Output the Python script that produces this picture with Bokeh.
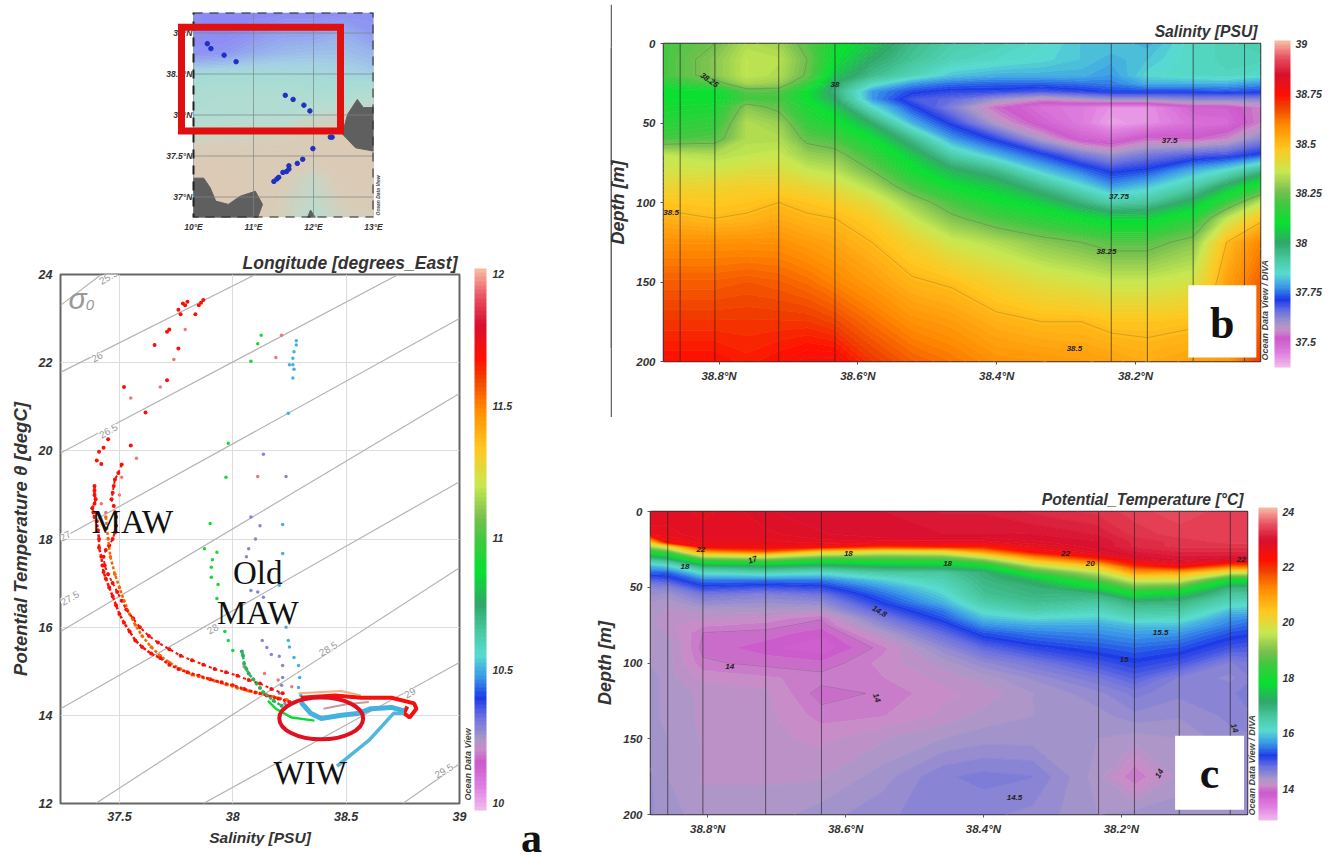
import numpy as np
from bokeh.plotting import figure
from bokeh.layouts import row, column
from bokeh.models import (ColorBar, LinearColorMapper, FixedTicker, Label, BoxAnnotation, Range1d)
from bokeh.embed import file_html
from bokeh.resources import INLINE

# ---------- colour map (fraction, colour), Ocean Data View style
CMAP_STOPS = [(0.0, "#f0b8ec"), (0.04, "#e080e0"), (0.085, "#cc58cc"), (0.11, "#c88cc8"), (0.13, "#a898c8"), (0.17, "#6a70e0"),
              (0.205, "#1c3ce8"), (0.245, "#3a98e8"), (0.285, "#58dcd0"), (0.33, "#48c8a0"), (0.38, "#30a868"),
              (0.44, "#08e030"), (0.50, "#40c840"), (0.54, "#78c050"), (0.60, "#c8e850"), (0.67, "#ffc820"),
              (0.745, "#ff8800"), (0.80, "#f04000"), (0.835, "#ff1000"), (0.90, "#d81030"), (0.95, "#e85060"),
              (1.0, "#f8b8a0")]


def hex2rgb(h):
    return np.array([int(h[i:i + 2], 16) for i in (1, 3, 5)], dtype=float)


def make_palette(n, stops=CMAP_STOPS):
    fr = [s[0] for s in stops]
    rgb = np.array([hex2rgb(s[1]) for s in stops])
    out = []
    for f in np.linspace(0, 1, n):
        c = [np.interp(f, fr, rgb[:, k]) for k in range(3)]
        out.append("#%02x%02x%02x" % tuple(int(round(v)) for v in c))
    return out


PAL = make_palette(128)
PAL_EDGE = make_palette(129)
FONT = "Liberation Sans"
SERIF = "Liberation Serif"
TXT = "#333333"

# ---------- panel b, salinity section
sal_lat = [38.88, 38.806, 38.76, 38.714, 38.673, 38.633, 38.58, 38.522, 38.465, 38.401, 38.335, 38.278, 38.235, 38.183, 38.117, 38.069, 38.02]
sal_depth = [0, 10, 20, 25, 30, 35, 40, 50, 60, 70, 80, 90, 100, 110, 125, 150, 175, 200]
sal_columns = [
    [38.2, 38.2, 38.2, 38.15, 38.1, 38.1, 38.12, 38.15, 38.2, 38.35, 38.38, 38.43, 38.48, 38.52, 38.58, 38.65, 38.7, 38.75],
    [38.25, 38.28, 38.28, 38.22, 38.1, 38.1, 38.13, 38.17, 38.22, 38.33, 38.38, 38.44, 38.47, 38.5, 38.58, 38.65, 38.7, 38.75],
    [38.33, 38.35, 38.35, 38.32, 38.22, 38.2, 38.28, 38.33, 38.33, 38.35, 38.4, 38.45, 38.48, 38.51, 38.58, 38.66, 38.7, 38.73],
    [38.31, 38.34, 38.33, 38.3, 38.22, 38.2, 38.23, 38.3, 38.33, 38.36, 38.4, 38.45, 38.5, 38.53, 38.58, 38.65, 38.7, 38.75],
    [38.22, 38.25, 38.24, 38.18, 38.1, 38.1, 38.13, 38.17, 38.23, 38.3, 38.36, 38.43, 38.48, 38.51, 38.56, 38.63, 38.7, 38.77],
    [38.12, 38.1, 38.05, 38.0, 37.97, 38.0, 38.05, 38.12, 38.2, 38.28, 38.34, 38.4, 38.46, 38.5, 38.54, 38.6, 38.68, 38.77],
    [38.05, 38.0, 37.95, 37.87, 37.78, 37.78, 37.85, 38.0, 38.1, 38.18, 38.25, 38.33, 38.41, 38.46, 38.5, 38.56, 38.63, 38.7],
    [37.95, 37.93, 37.88, 37.78, 37.72, 37.68, 37.72, 37.8, 37.95, 38.05, 38.12, 38.2, 38.3, 38.36, 38.44, 38.51, 38.58, 38.65],
    [37.9, 37.88, 37.82, 37.75, 37.7, 37.66, 37.63, 37.7, 37.78, 37.9, 38.02, 38.1, 38.2, 38.27, 38.37, 38.49, 38.56, 38.62],
    [37.88, 37.86, 37.8, 37.74, 37.7, 37.6, 37.53, 37.58, 37.7, 37.8, 37.95, 38.05, 38.12, 38.2, 38.33, 38.44, 38.52, 38.58],
    [37.85, 37.84, 37.8, 37.74, 37.68, 37.55, 37.47, 37.5, 37.58, 37.72, 37.82, 37.95, 38.06, 38.15, 38.28, 38.4, 38.5, 38.57],
    [37.82, 37.82, 37.8, 37.75, 37.7, 37.58, 37.45, 37.45, 37.5, 37.64, 37.75, 37.85, 37.97, 38.1, 38.25, 38.38, 38.5, 38.56],
    [37.82, 37.8, 37.78, 37.76, 37.72, 37.6, 37.42, 37.4, 37.48, 37.6, 37.7, 37.78, 37.9, 38.07, 38.22, 38.36, 38.48, 38.55],
    [37.8, 37.82, 37.84, 37.8, 37.72, 37.6, 37.42, 37.42, 37.53, 37.64, 37.72, 37.82, 37.92, 38.07, 38.22, 38.36, 38.48, 38.53],
    [37.86, 37.86, 37.86, 37.8, 37.72, 37.62, 37.5, 37.47, 37.52, 37.67, 37.8, 37.9, 38.03, 38.15, 38.28, 38.38, 38.49, 38.55],
    [37.88, 37.88, 37.87, 37.8, 37.73, 37.62, 37.5, 37.48, 37.55, 37.68, 37.85, 38.02, 38.18, 38.35, 38.5, 38.55, 38.55, 38.56],
    [37.9, 37.88, 37.85, 37.78, 37.72, 37.62, 37.55, 37.55, 37.62, 37.72, 37.95, 38.15, 38.35, 38.48, 38.6, 38.65, 38.65, 38.7],
]
sal_stations = [38.856, 38.806, 38.714, 38.633, 38.235, 38.183, 38.117, 38.043]
sal_label_lat = [38.814, 38.633, 38.869, 38.151, 38.224, 38.242, 38.288]
sal_label_depth = [23, 26, 106, 61, 96, 131, 192]
sal_label_text = ["38.25", "38", "38.5", "37.5", "37.75", "38.25", "38.5"]
sal_label_angle = [-35, 0, 0, 0, 0, 0, 0]

# ---------- panel c, potential temperature section
tem_lat = [38.883, 38.858, 38.807, 38.716, 38.635, 38.546, 38.459, 38.4, 38.329, 38.233, 38.181, 38.116, 38.042, 38.017]
tem_depth = [0, 15, 20, 23, 26, 29, 32, 36, 40, 45, 50, 55, 60, 65, 70, 75, 80, 90, 100, 110, 120, 135, 150, 175, 200]
tem_columns = [
    [22.8, 22.7, 20.5, 19.4, 18.4, 17.3, 16.6, 15.8, 15.4, 14.9, 14.55, 14.45, 14.35, 14.35, 14.3, 14.3, 14.3, 14.35, 14.35, 14.4, 14.4, 14.4, 14.4, 14.45, 14.45],
    [22.8, 22.7, 22.5, 20, 18.9, 17.8, 16.8, 16, 15.4, 15, 14.6, 14.4, 14.3, 14.25, 14.2, 14.2, 14.25, 14.3, 14.3, 14.3, 14.3, 14.3, 14.35, 14.35, 14.4],
    [22.7, 22.8, 22.7, 22.6, 21.2, 19.7, 18.5, 17, 16.2, 15.5, 15.1, 14.7, 14.5, 14.3, 14.2, 14.1, 14.0, 13.97, 14.02, 14.15, 14.25, 14.25, 14.25, 14.25, 14.3],
    [22.9, 22.8, 22.7, 22.6, 21.8, 20, 18.8, 17.2, 16.4, 15.5, 15.0, 14.6, 14.45, 14.3, 14.15, 14.05, 13.97, 13.85, 13.97, 14.1, 14.2, 14.2, 14.2, 14.25, 14.3],
    [23, 22.9, 22.8, 22.5, 20.5, 19.3, 18.2, 17, 16.2, 15.5, 15.1, 14.75, 14.5, 14.3, 14.02, 13.95, 13.85, 13.75, 13.93, 14.05, 13.95, 14.05, 14.15, 14.25, 14.4],
    [23, 23, 22.8, 22, 20, 19.1, 18.3, 17.3, 16.6, 16, 15.65, 15.4, 15.2, 14.95, 14.7, 14.5, 14.3, 14.05, 14.12, 14.08, 14.02, 14.08, 14.25, 14.4, 14.5],
    [23.1, 23, 22.8, 22.2, 20.2, 19.2, 18.4, 17.4, 16.6, 16.4, 16.2, 16, 15.8, 15.5, 15.3, 15.05, 14.85, 14.5, 14.3, 14.2, 14.15, 14.2, 14.35, 14.6, 14.6],
    [23.1, 23, 22.8, 22.2, 21.2, 20, 19, 17.8, 17, 16.9, 16.8, 16.7, 16.5, 16.2, 15.9, 15.6, 15.3, 14.85, 14.5, 14.3, 14.2, 14.3, 14.4, 14.65, 14.55],
    [23.2, 23, 22.9, 22.7, 22.5, 21.5, 20.5, 19.4, 18.4, 17.3, 17, 16.9, 16.75, 16.5, 16.1, 15.75, 15.5, 15.1, 14.7, 14.45, 14.35, 14.35, 14.4, 14.62, 14.5],
    [23.3, 23.1, 23, 23, 22.9, 22.7, 21.8, 20.5, 19.6, 18.7, 17.8, 16.9, 16.6, 16.3, 16, 15.75, 15.6, 15.3, 15, 14.7, 14.5, 14.4, 14.35, 14.3, 14.35],
    [23.4, 23.3, 23.2, 23.2, 23.1, 23, 22.8, 22, 21, 19.8, 18.8, 17.8, 16.95, 16.6, 16.3, 15.9, 15.7, 15.4, 15.15, 14.9, 14.65, 14.5, 14.3, 14, 14.4],
    [23.5, 23.4, 23.3, 23.3, 23.2, 23.1, 23, 22.5, 20.9, 19.8, 18.6, 17.5, 16.9, 16.6, 16.25, 15.9, 15.65, 15.3, 15, 14.6, 14.55, 14.45, 14.35, 14.3, 14.4],
    [23.4, 23.4, 23.4, 23.3, 23.2, 23.1, 22.9, 21.5, 19.8, 18, 16.95, 16.6, 16.3, 15.9, 15.65, 15.5, 15.3, 15, 14.6, 14.5, 14.6, 14.55, 14.5, 14.4, 14.4],
    [23.4, 23.4, 23.4, 23.3, 23.2, 23.1, 22.9, 21.5, 19.8, 18, 17, 16.6, 16.2, 15.9, 15.6, 15.4, 15.25, 14.95, 14.7, 14.6, 14.65, 14.6, 14.5, 14.45, 14.45],
]
tem_stations = [38.858, 38.807, 38.716, 38.635, 38.233, 38.181, 38.116, 38.042]
tem_label_lat = [38.81, 38.833, 38.735, 38.596, 38.452, 38.551, 38.768, 38.555, 38.281, 38.245, 38.026, 38.143, 38.196, 38.145, 38.355, 38.036]
tem_label_depth = [25, 36, 32, 28, 34, 66, 102, 123, 28, 34, 32, 80, 98, 173, 189, 143]
tem_label_text = ["22", "18", "17", "18", "18", "14.8", "14", "14", "22", "20", "22", "15.5", "15", "14", "14.5", "14"]
tem_label_angle = [0, 0, 20, 0, 0, -30, 0, -70, 0, 0, 0, 0, 0, 60, 0, -70]

# ---------- panel a, theta-S points
iso_name = ["25.5", "26", "26.5", "27", "27.5", "28", "28.5", "29", "29.5"]
iso_s0 = [37.24, 37.24, 37.24, 37.24, 37.24, 37.24, 37.395, 37.87, 38.75]
iso_t0 = [23.3, 21.78, 19.95, 18.0, 15.9, 14.15, 12.0, 12.0, 12.0]
iso_s1 = [37.42, 38.1, 38.73, 39.0, 39.0, 39.0, 39.0, 39.0, 39.0]
iso_t1 = [24.0, 24.0, 24.0, 23.0, 21.3, 19.3, 17.35, 15.2, 12.9]
iso_label_s = [37.45, 37.4, 37.45, 37.26, 37.28, 37.91, 38.42, 38.78, 38.93]
iso_label_t = [23.95, 22.14, 20.46, 18.08, 16.67, 15.97, 15.52, 14.52, 12.75]

red_top_s = [37.78, 37.79, 37.77, 37.8, 37.76, 37.86, 37.87, 37.85, 37.835, 37.72, 37.71, 37.655, 37.76, 37.71, 37.52, 37.615, 37.45, 37.43, 37.41, 37.55, 37.4, 37.42]
red_top_t = [23.34, 23.3, 23.1, 23.38, 23.2, 23.36, 23.42, 23.3, 23.1, 22.75, 22.7, 22.4, 22.32, 21.6, 21.45, 20.87, 20.26, 20.07, 19.98, 20.12, 19.78, 19.7]
red_a_s = [37.39, 37.39, 37.39, 37.395, 37.39, 37.38, 37.385, 37.39, 37.4, 37.405, 37.41, 37.41, 37.42, 37.425, 37.43, 37.44, 37.455, 37.47, 37.485, 37.5, 37.52, 37.545, 37.57, 37.6, 37.64, 37.68, 37.72, 37.76, 37.8, 37.85, 37.9, 37.95, 38.0, 38.05, 38.1, 38.15, 38.2, 38.25]
red_a_t = [19.2, 19.1, 19.0, 18.9, 18.8, 18.7, 18.6, 18.5, 18.4, 18.2, 18.0, 17.8, 17.6, 17.4, 17.25, 17.1, 16.9, 16.7, 16.5, 16.3, 16.1, 15.9, 15.7, 15.55, 15.4, 15.3, 15.15, 15.05, 14.98, 14.9, 14.82, 14.75, 14.68, 14.6, 14.52, 14.45, 14.38, 14.3]
red_b_s = [37.51, 37.495, 37.48, 37.475, 37.47, 37.465, 37.475, 37.485, 37.485, 37.48, 37.47, 37.455, 37.44, 37.43, 37.435, 37.45, 37.47, 37.49, 37.51, 37.53, 37.56, 37.59, 37.63, 37.67, 37.72, 37.77, 37.82, 37.87, 37.92, 37.97, 38.02, 38.07, 38.12, 38.17, 38.22]
red_b_t = [19.69, 19.5, 19.35, 19.2, 19.05, 18.9, 18.75, 18.5, 18.3, 18.15, 18.0, 17.85, 17.75, 17.6, 17.4, 17.2, 17.0, 16.8, 16.6, 16.4, 16.2, 16.0, 15.8, 15.65, 15.5, 15.35, 15.25, 15.15, 15.05, 14.98, 14.9, 14.8, 14.72, 14.6, 14.5]
orange_s = [37.44, 37.45, 37.46, 37.48, 37.5, 37.52, 37.545, 37.57, 37.6, 37.64, 37.68, 37.72, 37.77, 37.82, 37.87, 37.92, 37.97, 38.02, 38.07, 38.12, 38.18, 38.24]
orange_t = [18.5, 18.0, 17.6, 17.2, 16.9, 16.6, 16.3, 16.05, 15.8, 15.55, 15.35, 15.2, 15.05, 14.92, 14.85, 14.78, 14.7, 14.62, 14.55, 14.5, 14.42, 14.35]
pale_s = [37.79, 37.74, 37.68, 37.55, 37.575, 37.51, 37.5, 37.44, 37.42, 38.19, 38.215, 38.11, 38.05, 38.14, 38.2, 38.26]
pale_t = [22.75, 22.07, 21.45, 21.2, 19.83, 19.4, 19.0, 18.6, 18.8, 22.12, 22.62, 19.42, 15.1, 14.95, 14.8, 14.65]
green_s = [38.125, 38.11, 38.08, 37.98, 37.97, 37.9, 37.875, 37.93, 37.91, 37.905, 37.905, 37.935, 37.93, 37.965, 37.98, 38.0]
green_t = [22.62, 22.43, 22.03, 20.17, 19.4, 18.35, 17.78, 17.7, 17.53, 17.36, 17.13, 16.97, 16.65, 15.9, 15.7, 15.47]
green_tail_s = [38.155, 38.19, 38.26, 38.36]
green_tail_t = [14.33, 14.15, 13.95, 13.88]
sage_s = [38.04, 38.045, 38.05, 38.06, 38.07, 38.09, 38.105, 38.12, 38.135, 38.18, 38.215]
sage_t = [15.45, 15.36, 15.17, 15.05, 14.95, 14.82, 14.72, 14.62, 14.52, 14.33, 14.22]
purple_s = [38.135, 38.08, 38.12, 38.07, 38.1, 38.06, 38.08, 38.11, 38.135, 38.13, 38.15, 38.17, 38.205, 38.22, 38.22, 38.215, 38.205, 38.23, 38.235]
purple_t = [19.92, 18.5, 18.3, 17.78, 18.0, 17.6, 16.83, 16.8, 16.68, 15.7, 15.54, 15.38, 15.34, 15.13, 14.86, 14.68, 14.5, 14.27, 19.42]
sky_s = [38.245, 38.25, 38.265, 38.28, 38.28, 38.27, 38.265, 38.265, 38.27, 38.22, 38.205, 38.235, 38.245, 38.25, 38.27, 38.29, 38.295, 38.29, 38.3, 38.22]
sky_t = [20.85, 21.95, 21.65, 22.5, 22.4, 22.25, 22.1, 21.95, 21.85, 17.67, 16.95, 16.0, 15.7, 15.55, 15.31, 15.13, 14.86, 14.63, 14.45, 18.33]

band_s = [38.3, 38.345, 38.39, 38.48, 38.55, 38.61, 38.7, 38.755]
band_t = [14.3, 14.04, 13.93, 14.0, 14.04, 14.15, 14.18, 14.1]
wiw_s = [38.755, 38.71, 38.6, 38.46]
wiw_t = [14.05, 14.05, 13.43, 12.85]
loop_s = [38.3, 38.45, 38.565, 38.7, 38.8, 38.81, 38.78, 38.755, 38.77]
loop_t = [14.4, 14.45, 14.4, 14.4, 14.27, 14.15, 13.95, 14.05, 14.2]
tan_s = [38.29, 38.48, 38.565]
tan_t = [14.5, 14.55, 14.45]
pink_s = [38.4, 38.5, 38.6]
pink_t = [14.15, 14.25, 14.3]

# ---------- map
map_lon = [10, 10.5, 11, 11.5, 12, 12.5, 13]
map_lat = [36.75, 37, 37.25, 37.5, 37.75, 38, 38.25, 38.5, 38.75, 39, 39.25]
map_depth = [
    [200, 200, 300, 700, 1200, 700, 600],
    [200, 150, 200, 600, 1000, 500, 300],
    [250, 200, 300, 500, 900, 300, 200],
    [300, 200, 300, 300, 250, 200, 250],
    [900, 800, 800, 700, 400, 300, 300],
    [1500, 1400, 1300, 1400, 1000, 800, 700],
    [1600, 1500, 1500, 1500, 1600, 1600, 1300],
    [2000, 1900, 1900, 1900, 2000, 2100, 2300],
    [3300, 3200, 2800, 2600, 2500, 2500, 2700],
    [3400, 3500, 3300, 3000, 3000, 2800, 3200],
    [3400, 3500, 3500, 3500, 3500, 3400, 3300],
]
land_lon = [[12.48, 12.57, 12.73, 12.83, 13.0, 13.0, 12.7],
            [10.0, 10.17, 10.28, 10.37, 10.58, 10.78, 11.03, 11.15, 11.07, 10.0],
            [11.9, 11.95, 12.03]]
land_lat = [[37.77, 38.01, 38.19, 38.09, 38.09, 37.56, 37.6],
            [37.23, 37.23, 37.11, 36.95, 36.91, 37.01, 37.07, 36.91, 36.75, 36.75],
            [36.75, 36.84, 36.75]]
stn_lon = [10.23, 10.29, 10.51, 10.71, 11.53, 11.66, 11.84, 11.94, 12.31, 12.28, 11.99, 11.82, 11.73, 11.59, 11.59, 11.55, 11.49, 11.42, 11.39, 11.34]
stn_lat = [38.87, 38.81, 38.73, 38.65, 38.24, 38.19, 38.12, 38.05, 37.73, 37.73, 37.59, 37.46, 37.41, 37.38, 37.34, 37.31, 37.30, 37.24, 37.22, 37.19]
lon_ticks = [10, 11, 12, 13]
lat_ticks = [37, 37.5, 38, 38.5, 39]
lat_tick_labels = ["37°N", "37.5°N", "38°N", "38.5°N", "39°N"]
MAP_STOPS = [(0.0, "#dccab4"), (0.12, "#d8ccb8"), (0.3, "#b8dcd0"), (0.5, "#a6dcd4"), (0.62, "#a4d0e4"), (0.8, "#94a8ee"), (1.0, "#8a84f4")]


def style_axis(ax, size="12px", label_size="13px"):
    ax.major_label_text_font = FONT
    ax.major_label_text_font_style = "bold italic"
    ax.major_label_text_font_size = size
    ax.major_label_text_color = TXT
    ax.axis_label_text_font = FONT
    ax.axis_label_text_font_style = "bold italic"
    ax.axis_label_text_font_size = label_size
    ax.axis_label_text_color = TXT
    ax.axis_line_color = None
    ax.major_tick_line_color = "#555555"
    ax.major_tick_out = 3
    ax.major_tick_in = 0
    ax.minor_tick_line_color = None


def add_title(p, text, size, standoff, offset):
    p.title.text = text
    p.title.align = "right"
    p.title.text_font = FONT
    p.title.text_font_style = "bold italic"
    p.title.text_font_size = size
    p.title.text_color = TXT
    p.title.standoff = standoff
    p.title.offset = offset


def add_bar(p, low, high, ticks, width, height, loc, size="10.5px", standoff=6):
    mapper = LinearColorMapper(palette=PAL, low=low, high=high)
    cb = ColorBar(color_mapper=mapper, ticker=FixedTicker(ticks=ticks), width=width, height=height, location=loc,
                  padding=0, margin=0, major_tick_line_color=None, bar_line_color=None, label_standoff=standoff,
                  major_label_text_font=FONT, major_label_text_font_style="bold italic",
                  major_label_text_font_size=size, major_label_text_color=TXT, background_fill_color=None, border_line_color=None)
    p.add_layout(cb, "right")
    return cb


def section(lat, depth, columns, stations, levels_low, levels_high, iso, frame_w, frame_h, left, right, top, bottom, xr, title, tsize, standoff, offset, margin):
    p = figure(width=left + frame_w + right, height=top + frame_h + bottom, frame_width=frame_w, frame_height=frame_h,
               min_border_left=left, min_border_right=right, min_border_top=top, min_border_bottom=bottom, margin=margin,
               x_range=Range1d(*xr), y_range=Range1d(200, 0), output_backend="svg", toolbar_location=None, y_axis_label="Depth [m]")
    z = np.array(columns).T
    x = np.array(lat)[::-1]
    y = np.array(depth, dtype=float)
    zz = z[:, ::-1]
    lev = np.linspace(levels_low, levels_high, len(PAL) + 1)
    p.contour(x, y, zz, lev, fill_color=PAL, line_color=PAL_EDGE, line_width=1)
    p.contour(x, y, zz, iso, line_color="#333333", line_alpha=0.3, line_width=0.7)
    p.segment(stations, [0] * len(stations), stations, [200] * len(stations), line_color="#222222", line_alpha=0.65, line_width=1)
    p.grid.visible = False
    p.outline_line_color = "#333333"
    p.outline_line_width = 1.5
    ticks = [38.8, 38.6, 38.4, 38.2]
    p.xaxis.ticker = FixedTicker(ticks=ticks)
    p.xaxis.major_label_overrides = {t: f"{t}°N" for t in ticks}
    p.yaxis.ticker = FixedTicker(ticks=[0, 50, 100, 150, 200])
    for ax in (p.xaxis[0], p.yaxis[0]):
        style_axis(ax, "11.5px", "18px")
    add_title(p, title, tsize, standoff, offset)
    return p


def vertical_note(p, x, y, text, size="9px"):
    # kept in the side panel: annotations of the centre are clipped to the frame
    p.add_layout(Label(x=x, y=y, x_units="canvas", y_units="canvas", text=text, angle=90, angle_units="deg", text_font=FONT,
                       text_font_style="bold italic", text_font_size=size, text_color="#444444", text_baseline="middle", text_align="left"), "right")


def big_text(p, x, y, text, size="33px", style="normal", align="left", lift=11):
    p.add_layout(Label(x=x, y=y, y_offset=lift, text=text, text_font=SERIF, text_font_size=size, text_font_style=style,
                       text_color="#111111", text_align=align, text_baseline="alphabetic"))


def small_labels(p, xs, ys, texts, angles):
    for xv, yv, t, a in zip(xs, ys, texts, angles):
        p.add_layout(Label(x=xv, y=yv, text=t, angle=a, angle_units="deg", text_font=FONT, text_font_style="bold italic",
                           text_font_size="8px", text_color="#222222", text_align="center", text_baseline="middle"))


# ---------- map figure
p_map = figure(width=406, height=235, frame_width=213, frame_height=205, min_border_left=60, min_border_right=133,
               min_border_top=12, min_border_bottom=18, margin=(0, 0, 0, 100), x_range=Range1d(9.45, 13), y_range=Range1d(36.75, 39.25),
               output_backend="svg", toolbar_location=None)
map_lev = np.linspace(100, 3600, 41)
p_map.contour(map_lon, map_lat, np.array(map_depth, dtype=float), map_lev, fill_color=make_palette(40, MAP_STOPS),
              line_color=make_palette(41, MAP_STOPS), line_width=1)
p_map.patches(land_lon, land_lat, fill_color="#5f5f5f", line_color="#5f5f5f")
p_map.grid.visible = False
p_map.segment(lon_ticks, [36.75] * 4, lon_ticks, [39.25] * 4, line_color="#778888", line_alpha=0.7)
p_map.segment([10] * 5, lat_ticks, [13] * 5, lat_ticks, line_color="#778888", line_alpha=0.7)
p_map.quad(left=[10], right=[13], top=[39.25], bottom=[36.75], fill_color=None, line_color="#222222", line_width=2, line_dash="9 7")
p_map.scatter(stn_lon, stn_lat, size=4.5, color="#2030c0")
p_map.outline_line_color = None
p_map.xaxis.ticker = FixedTicker(ticks=lon_ticks)
p_map.xaxis.major_label_overrides = {t: f"{t}°E" for t in lon_ticks}
style_axis(p_map.xaxis[0], "8.5px")
p_map.xaxis[0].major_tick_line_color = None
p_map.xaxis[0].major_label_standoff = 1
p_map.yaxis.visible = False
p_map.text([9.98] * 5, lat_ticks, text=lat_tick_labels, text_align="right", text_baseline="middle", text_font_size="8.5px",
           text_font_style="bold italic", text_color=TXT)
p_map.quad(left=[9.8], right=[12.45], top=[39.07], bottom=[37.805], fill_color=None, line_color="#e01010", line_width=7, line_join="miter")
vertical_note(p_map, 277, 215, "Ocean Data View", "5px")

# ---------- theta-S figure
p_ts = figure(width=592, height=620, frame_width=399, frame_height=529, min_border_left=60, min_border_right=133,
              min_border_top=39, min_border_bottom=52, x_range=Range1d(37.24, 39), y_range=Range1d(12, 24),
              output_backend="svg", toolbar_location=None, x_axis_label="Salinity [PSU]", y_axis_label="Potential Temperature θ [degC]")
p_ts.segment(iso_s0, iso_t0, iso_s1, iso_t1, line_color="#b4b4b4", line_width=1.2)
for s, t, n in zip(iso_label_s, iso_label_t, iso_name):
    p_ts.add_layout(Label(x=s, y=t, text=n, angle=30, angle_units="deg", text_font=FONT, text_font_size="10px", text_color="#9a9a9a",
                          text_align="center", text_baseline="middle", background_fill_color="white"))
p_ts.xgrid.grid_line_color = "#dddddd"
p_ts.ygrid.grid_line_color = "#dddddd"
p_ts.xaxis.ticker = FixedTicker(ticks=[37.5, 38, 38.5, 39])
p_ts.yaxis.ticker = FixedTicker(ticks=[12, 14, 16, 18, 20, 22, 24])
for a in (p_ts.xaxis[0], p_ts.yaxis[0]):
    style_axis(a, "12.5px", "15.5px")
    a.major_tick_line_color = None
p_ts.yaxis[0].axis_label_text_font_size = "18.5px"
p_ts.outline_line_color = "#666666"
p_ts.outline_line_width = 2


def cz(z):
    return PAL[int(round((z - 9.97) / (12.02 - 9.97) * (len(PAL) - 1)))]


for sx, ty, zv, sz in [(pale_s, pale_t, 11.95, 3.5), (orange_s, orange_t, 11.55, 3.5), (green_s, green_t, 10.9, 3.5), (sage_s, sage_t, 10.78, 4),
                       (purple_s, purple_t, 10.28, 3.5), (sky_s, sky_t, 10.5, 3.5), (red_top_s, red_top_t, 11.7, 4), (red_a_s, red_a_t, 11.7, 4), (red_b_s, red_b_t, 11.7, 4)]:
    p_ts.scatter(sx, ty, size=sz, color=cz(zv), line_color=None)
p_ts.line(orange_s, orange_t, line_color=cz(11.55), line_width=2.5, line_dash="3 2")
p_ts.line(red_a_s, red_a_t, line_color=cz(11.7), line_width=2.5, line_dash="3 2")
p_ts.line(red_b_s, red_b_t, line_color=cz(11.7), line_width=2, line_dash="3 3")
p_ts.line(sage_s, sage_t, line_color=cz(10.78), line_width=2.5, line_dash="3 2")
p_ts.line(green_tail_s, green_tail_t, line_color=cz(10.85), line_width=2.5)
p_ts.line(tan_s, tan_t, line_color="#f0b080", line_width=2)
p_ts.line(loop_s, loop_t, line_color=cz(11.72), line_width=4)
p_ts.line(band_s, band_t, line_color=cz(10.5), line_width=5)
p_ts.line(pink_s, pink_t, line_color="#c898a8", line_width=2)
p_ts.line(wiw_s, wiw_t, line_color="#50b8dc", line_width=3.5)
p_ts.ellipse([38.39], [13.93], width=[0.37], height=[0.95], fill_color=None, line_color="#e01020", line_width=4)
add_title(p_ts, "Longitude [degrees_East]", "17.5px", 4, 2)
add_bar(p_ts, 9.97, 12.02, [10, 10.5, 11, 11.5, 12], 12, 542, (15, -7), "10.5px", 6)
vertical_note(p_ts, 467, 565, "Ocean Data View")
p_ts.add_layout(Label(x=531, y=602, x_units="canvas", y_units="canvas", text="a", text_font=SERIF, text_font_size="42px", text_font_style="bold",
                      text_color="#111111", text_align="center", text_baseline="alphabetic"), "right")
p_ts.add_layout(Label(x=37.315, y=23.46, text="σ", text_font=FONT, text_font_style="italic", text_font_size="30px", text_color="#999999",
                      text_align="center", text_baseline="middle"))
p_ts.add_layout(Label(x=37.37, y=23.3, text="0", text_font=FONT, text_font_style="italic", text_font_size="15px", text_color="#999999",
                      text_align="center", text_baseline="middle"))
big_text(p_ts, 37.377, 18.13, "MAW")
big_text(p_ts, 38.11, 16.99, "Old", align="center")
big_text(p_ts, 38.11, 16.08, "MAW", align="center")
big_text(p_ts, 38.18, 12.45, "WIW")

# ---------- salinity figure
p_b = section(sal_lat, sal_depth, sal_columns, sal_stations, 37.37, 39.02, [38.25, 38.5], 597, 318, 56, 74, 43, 69,
              (38.88, 38.02), "Salinity [PSU]", "15.7px", 7, 3, (0, 0, 0, -7))
p_b.border_fill_color = None
add_bar(p_b, 37.37, 39.02, [37.5, 37.75, 38, 38.25, 38.5, 38.75, 39], 16, 327, (14, -6), "10.5px", 5)
small_labels(p_b, sal_label_lat, sal_label_depth, sal_label_text, sal_label_angle)
p_b.add_layout(BoxAnnotation(left=38.124, right=38.026, top=152, bottom=197.5, fill_color="white", fill_alpha=1, line_color=None))
big_text(p_b, 38.075, 185.5, "b", "44px", "bold", "center", 15)
vertical_note(p_b, 659, 360, "Ocean Data View / DIVA")
rule = figure(width=2, height=413, margin=(4, 0, 0, 18), toolbar_location=None, x_axis_location=None, y_axis_location=None,
              min_border=0, background_fill_color="#666666", border_fill_color="#666666", outline_line_color=None, output_backend="svg")
rule.grid.visible = False

# ---------- temperature figure
p_c = section(tem_lat, tem_depth, tem_columns, tem_stations, 12.85, 24.15, [14.0], 597, 303, 56, 74, 81, 33,
              (38.883, 38.017), "Potential_Temperature [°C]", "15.7px", 8, 4, (0, 0, 0, 0))
add_bar(p_c, 12.85, 24.15, [14, 16, 18, 20, 22, 24], 19, 313, (11, -6), "10.5px", 5)
small_labels(p_c, tem_label_lat, tem_label_depth, tem_label_text, tem_label_angle)
p_c.add_layout(BoxAnnotation(left=38.122, right=38.022, top=148, bottom=196.8, fill_color="white", fill_alpha=1, line_color=None))
big_text(p_c, 38.072, 183, "c", "44px", "bold", "center", 15)
vertical_note(p_c, 659, 385, "Ocean Data View / DIVA")

page = row(column(p_map, p_ts, spacing=0), column(row(rule, p_b, spacing=0), p_c, spacing=0), spacing=0)
open("out.html", "w").write(file_html(page, INLINE))
